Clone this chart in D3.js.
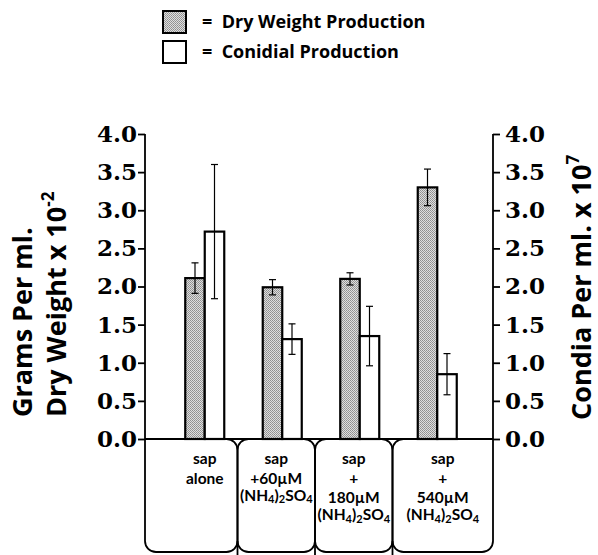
<!DOCTYPE html>
<html>
<head>
<meta charset="utf-8">
<script src="https://cdn.jsdelivr.net/npm/d3@7"></script>
<style>
	body { margin: 0; background: #fff; }
	svg { display: block; }
	.sans { font-family: "Open Sans", sans-serif; font-weight: 700; }
	.lab { font-family: Lato, sans-serif; font-weight: 700; }
	.tick text { font-family: "DejaVu Serif", serif; font-weight: 700; font-size: 23px; fill: #000; }
</style>
</head>
<body>
<div id="chart"></div>
<script>
let categories	= ["sap alone", "sap + 60µM", "sap + 180µM", "sap + 540µM"]
let labelLines	= [
	["sap", "alone"],
	["sap", "+60µM", "(NH4)2SO4"],
	["sap", "+", "180µM", "(NH4)2SO4"],
	["sap", "+", "540µM", "(NH4)2SO4"]
]
let dryWeight	= [2.11, 1.99, 2.10, 3.30]
let dryErr	= [0.20, 0.10, 0.08, 0.24]
let conidia	= [2.72, 1.31, 1.35, 0.85]
let conidiaErr	= [0.88, 0.20, 0.39, 0.27]
let tickValues	= [0, 0.5, 1, 1.5, 2, 2.5, 3, 3.5, 4]
let legendItems	= ["Dry Weight Production", "Conidial Production"]

let dims = {width: 598, height: 555, left: 145, right: 493, top: 134, base: 439, bottom: 552}

let svg = d3.select("#chart")
	.append("svg")
	.attr("width", dims.width)
	.attr("height", dims.height)

let defs = svg.append("defs")
let pat = defs.append("pattern")
	.attr("id", "stipple")
	.attr("patternUnits", "userSpaceOnUse")
	.attr("width", 2)
	.attr("height", 2)
pat.append("rect").attr("width", 2).attr("height", 2).attr("fill", "#dedede")
pat.append("rect").attr("width", 1).attr("height", 1).attr("fill", "#8e8e8e")
pat.append("rect").attr("x", 1).attr("y", 1).attr("width", 1).attr("height", 1).attr("fill", "#9a9a9a")

let y = d3.scaleLinear().domain([0, 4]).range([dims.base, dims.top])
let x = d3.scaleBand().domain(categories).range([166, 476])
let barW = 19.5

// legend
let legend = svg.append("g").attr("transform", "translate(163,11)")
legendItems.forEach(function(name, i) {
	let g = legend.append("g").attr("transform", "translate(0," + (i * 30) + ")")
	g.append("rect")
		.attr("width", 23)
		.attr("height", 22)
		.attr("fill", i == 0 ? "url(#stipple)" : "#fff")
		.attr("stroke", "#000")
		.attr("stroke-width", 2)
	g.append("text")
		.classed("sans", true)
		.attr("x", 39)
		.attr("y", 17)
		.attr("font-size", 18)
		.attr("xml:space", "preserve")
		.text("=  " + name)
})

// boxes under the baseline
let edges = [dims.left].concat(categories.slice(1).map(c => x(c) - 6)).concat([dims.right])
let r = 11
let boxes = svg.append("g")
for (let i = 0; i < 4; i++) {
	let x0 = edges[i], x1 = edges[i + 1]
	let p = d3.path()
	if (i > 0) {
		p.moveTo(x0 + r, dims.base)
		p.arcTo(x0, dims.base, x0, dims.base + r, r)
	} else {
		p.moveTo(x0, dims.top)
	}
	p.lineTo(x0, dims.bottom - r)
	p.arcTo(x0, dims.bottom, x0 + r, dims.bottom, r)
	p.lineTo(x1 - r, dims.bottom)
	p.arcTo(x1, dims.bottom, x1, dims.bottom - r, r)
	if (i < 3) {
		p.lineTo(x1, dims.base + r)
		p.arcTo(x1, dims.base, x1 - r, dims.base, r)
	} else {
		p.lineTo(x1, dims.top)
	}
	boxes.append("path")
		.attr("d", p.toString())
		.attr("fill", "none")
		.attr("stroke", "#000")
		.attr("stroke-width", 1.8)
}
edges.slice(1, 4).forEach(function(d) {
	boxes.append("line")
		.attr("x1", d).attr("x2", d)
		.attr("y1", dims.bottom - r).attr("y2", dims.height)
		.attr("stroke", "#000")
		.attr("stroke-width", 1.8)
})

svg.append("line")
	.attr("x1", dims.left).attr("x2", dims.right)
	.attr("y1", y(0)).attr("y2", y(0))
	.attr("stroke", "#000")
	.attr("stroke-width", 2)

// axes
let leftAxis = d3.axisLeft(y).tickValues(tickValues).tickSize(7).tickSizeOuter(0).tickPadding(1).tickFormat(d3.format(".1f"))
let rightAxis = d3.axisRight(y).tickValues(tickValues).tickSize(7).tickSizeOuter(0).tickPadding(5).tickFormat(d3.format(".1f"))

svg.append("g")
	.attr("transform", "translate(" + dims.left + ",0)")
	.call(leftAxis)
	.call(g => g.select(".domain").remove())
	.call(g => g.selectAll(".tick line").attr("stroke", "#000").attr("stroke-width", 1.8))

svg.append("g")
	.attr("transform", "translate(" + dims.right + ",0)")
	.call(rightAxis)
	.call(g => g.select(".domain").remove())
	.call(g => g.selectAll(".tick line").attr("stroke", "#000").attr("stroke-width", 1.8))

// axis titles
let lt = svg.append("g").classed("sans", true).attr("font-size", 27)
lt.append("text")
	.attr("transform", "translate(32,417) rotate(-90)")
	.text("Grams Per ml.")
let lt2 = lt.append("text")
	.attr("transform", "translate(66,417) rotate(-90)")
lt2.append("tspan").text("Dry Weight x 10")
lt2.append("tspan").attr("font-size", 17).attr("dy", -12).text("-2")

let rt = svg.append("text")
	.classed("sans", true)
	.attr("font-size", 27)
	.attr("transform", "translate(591,420) rotate(-90)")
rt.append("tspan").text("Condia Per ml. x 10")
rt.append("tspan").attr("font-size", 17).attr("dy", -12).text("7")

// bars
let groups = svg.append("g")
	.selectAll("g.grp")
	.data(categories.map((c, i) => ({cat: c, dry: dryWeight[i], dryE: dryErr[i], con: conidia[i], conE: conidiaErr[i]})))
	.enter()
		.append("g")
		.classed("grp", true)

let mid = d => x(d.cat) + x.bandwidth() / 2

function errBar(sel, cx, v, e) {
	sel.append("line")
		.attr("x1", cx).attr("x2", cx)
		.attr("y1", y(v + e)).attr("y2", y(v - e))
		.attr("stroke", "#000").attr("stroke-width", 1.2)
	;[v + e, v - e].forEach(function(t) {
		sel.append("line")
			.attr("x1", cx - 3.5).attr("x2", cx + 3.5)
			.attr("y1", y(t)).attr("y2", y(t))
			.attr("stroke", "#000").attr("stroke-width", 1.2)
	})
}

groups.each(function(d) {
	let g = d3.select(this)
	let m = mid(d)
	g.append("rect")
		.attr("x", m - barW)
		.attr("y", y(d.dry))
		.attr("width", barW)
		.attr("height", y(0) - y(d.dry))
		.attr("fill", "url(#stipple)")
		.attr("stroke", "#000")
		.attr("stroke-width", 2.2)
	g.append("rect")
		.attr("x", m)
		.attr("y", y(d.con))
		.attr("width", barW)
		.attr("height", y(0) - y(d.con))
		.attr("fill", "#fff")
		.attr("stroke", "#000")
		.attr("stroke-width", 2.2)
	errBar(g, m - barW / 2, d.dry, d.dryE)
	errBar(g, m + barW / 2, d.con, d.conE)
})

// category labels
let labels = svg.append("g").classed("lab", true).attr("font-size", 15.5).attr("text-anchor", "middle")
labelLines.forEach(function(lines, i) {
	let cx = i == 0 ? x(categories[0]) + x.bandwidth() / 2 : (edges[i] + edges[i + 1]) / 2
	lines.forEach(function(line, j) {
		let t = labels.append("text")
			.attr("x", cx)
			.attr("y", 464 + j * 19.5)
		if (line.indexOf("SO") >= 0) {
			line.match(/[A-Z()]+|\d+/g).forEach(function(part) {
				if (/\d/.test(part)) {
					t.append("tspan").attr("font-size", 11).attr("dy", 2.5).text(part)
				} else {
					t.append("tspan").attr("dy", t.selectAll("tspan").size() ? -2.5 : 0).text(part)
				}
			})
		} else {
			t.text(line)
		}
	})
})
</script>
</body>
</html>
